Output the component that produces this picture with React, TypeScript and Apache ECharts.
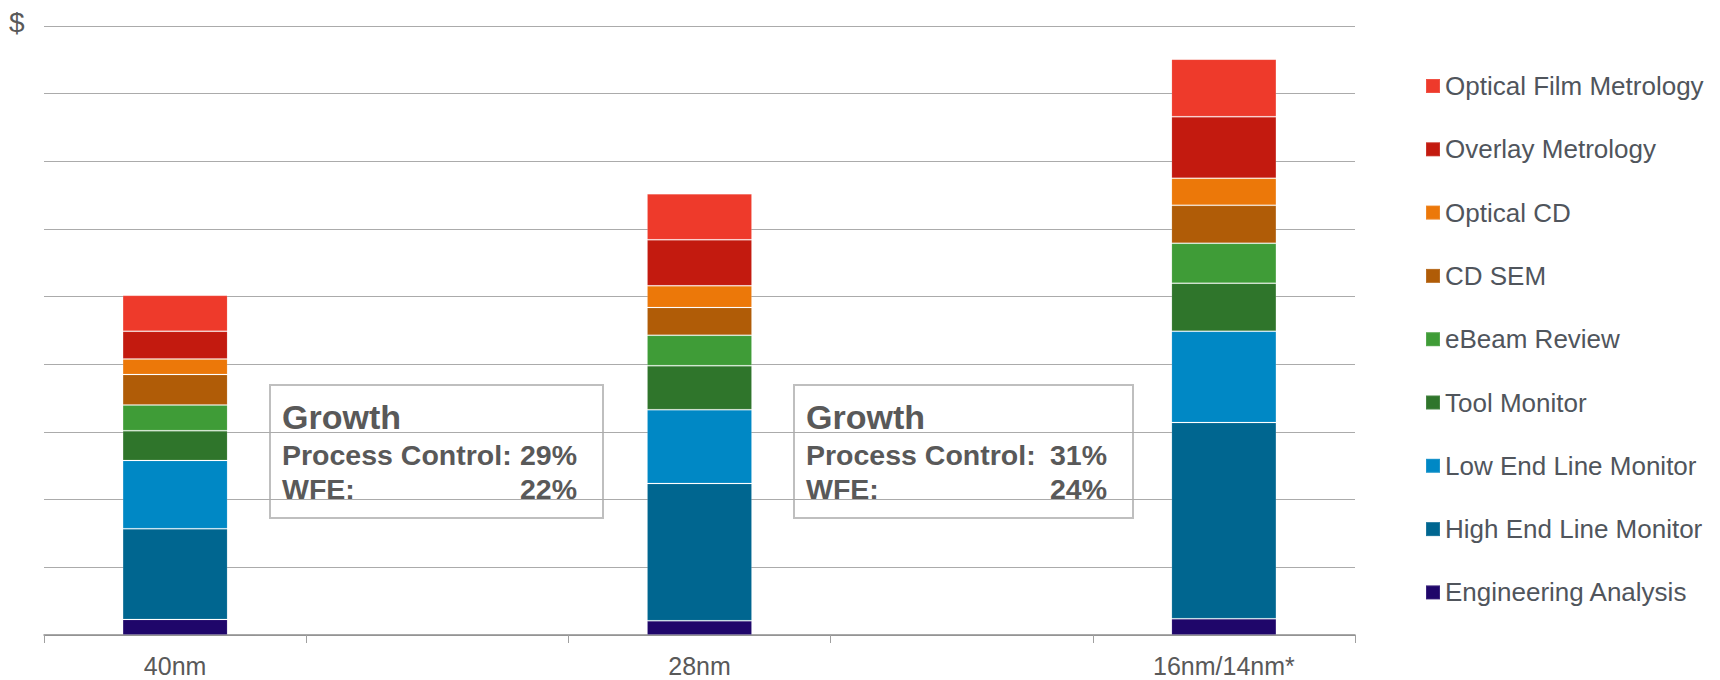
import React, { useEffect, useRef } from 'react';
import * as echarts from 'echarts';

// Node categories; the empty slots keep the wide spacing between bars
const categories = ['40nm', '', '28nm', '', '16nm/14nm*'];

// Stack order, bottom to top
const seriesNames = [
  'Engineering Analysis',
  'High End Line Monitor',
  'Low End Line Monitor',
  'Tool Monitor',
  'eBeam Review',
  'CD SEM',
  'Optical CD',
  'Overlay Metrology',
  'Optical Film Metrology',
];

const seriesColors = [
  '#1F066A',
  '#006690',
  '#0088C5',
  '#2F752B',
  '#3F9C37',
  '#B05C07',
  '#EC7809',
  '#C31A0F',
  '#EE3A2B',
];

// Process-control spend per node (relative $ units)
const engineeringAnalysis = [0.23, '-', 0.21, '-', 0.24];
const highEndLineMonitor = [1.34, '-', 2.03, '-', 2.9];
const lowEndLineMonitor = [1.01, '-', 1.09, '-', 1.35];
const toolMonitor = [0.44, '-', 0.65, '-', 0.71];
const eBeamReview = [0.38, '-', 0.45, '-', 0.59];
const cdSem = [0.45, '-', 0.41, '-', 0.56];
const opticalCd = [0.23, '-', 0.32, '-', 0.4];
const overlayMetrology = [0.41, '-', 0.68, '-', 0.91];
const opticalFilmMetrology = [0.53, '-', 0.68, '-', 0.85];

const seriesValues = [
  engineeringAnalysis,
  highEndLineMonitor,
  lowEndLineMonitor,
  toolMonitor,
  eBeamReview,
  cdSem,
  opticalCd,
  overlayMetrology,
  opticalFilmMetrology,
];

// Growth call-outs between nodes
const growthTitle = 'Growth';
const processControlLabel = 'Process Control:';
const wfeLabel = 'WFE:';
const processControlGrowth = ['29%', '31%'];
const wfeGrowth = ['22%', '24%'];

const FONT = '"Liberation Sans", Arial, Helvetica, sans-serif';
const TEXT_GRAY = '#595959';

function boxText(x: number, y: number, text: string, size: number, align: string) {
  return {
    type: 'text',
    x,
    y,
    style: {
      text,
      fill: TEXT_GRAY,
      fontFamily: FONT,
      fontWeight: 'bold',
      fontSize: size,
      align,
      verticalAlign: 'middle',
    },
  };
}

function growthBox(x: number, w: number, pcText: string, wfeText: string, valueRight: number) {
  const top = 385;
  const h = 133;
  const textLeft = x + 12;
  return {
    type: 'group',
    z: 100,
    children: [
      {
        type: 'rect',
        shape: { x, y: top, width: w, height: h },
        style: { fill: '#FFFFFF', stroke: '#BFBFBF', lineWidth: 2 },
      },
      boxText(textLeft, top + 32, growthTitle, 34, 'left'),
      boxText(textLeft, top + 70, processControlLabel, 28.5, 'left'),
      boxText(valueRight, top + 70, pcText, 28.5, 'right'),
      boxText(textLeft, top + 104, wfeLabel, 28.5, 'left'),
      boxText(valueRight, top + 104, wfeText, 28.5, 'right'),
    ],
  };
}

export default function App() {
  const ref = useRef<HTMLDivElement>(null);

  useEffect(() => {
    if (!ref.current) return;
    const chart = echarts.init(ref.current, undefined, { renderer: 'svg' });

    const series = seriesNames.map((name, i) => ({
      name,
      type: 'bar',
      stack: 'total',
      barWidth: 105,
      data: seriesValues[i],
      itemStyle: {
        color: seriesColors[i],
        borderColor: 'rgba(255,255,255,0.12)',
        borderWidth: 1,
      },
      emphasis: { disabled: true },
    }));

    chart.setOption({
      animation: false,
      backgroundColor: '#FFFFFF',
      textStyle: { fontFamily: FONT },
      grid: { left: 44, right: 365, top: 26, bottom: 45, containLabel: false },
      xAxis: {
        type: 'category',
        data: categories,
        axisLine: { lineStyle: { color: '#8C8C8C', width: 1.5 } },
        axisTick: { show: true, alignWithLabel: false, length: 8, lineStyle: { color: '#A0A0A0' } },
        axisLabel: {
          fontSize: 25,
          color: TEXT_GRAY,
          fontFamily: FONT,
          margin: 18,
          interval: 0,
        },
      },
      yAxis: {
        type: 'value',
        min: 0,
        max: 9,
        interval: 1,
        axisLine: { show: false },
        axisTick: { show: false },
        axisLabel: { show: false },
        splitLine: { lineStyle: { color: '#ABABAB', width: 1 } },
      },
      legend: {
        orient: 'vertical',
        left: 1425,
        top: 73,
        padding: 0,
        icon: 'rect',
        itemWidth: 14,
        itemHeight: 14,
        itemGap: 37.3,
        selectedMode: false,
        data: [...seriesNames].reverse(),
        textStyle: {
          fontSize: 26,
          color: '#50555C',
          fontFamily: FONT,
        },
      },
      graphic: [
        {
          type: 'text',
          x: 9,
          y: 22,
          style: {
            text: '$',
            fill: TEXT_GRAY,
            fontFamily: FONT,
            fontSize: 28,
            align: 'left',
            verticalAlign: 'middle',
          },
        },
        growthBox(270, 333, processControlGrowth[0], wfeGrowth[0], 577),
        growthBox(794, 339, processControlGrowth[1], wfeGrowth[1], 1107),
      ],
      series,
    });

    return () => chart.dispose();
  }, []);

  return (
    <div
      ref={ref}
      style={{ position: 'absolute', left: 0, top: 0, width: 1720, height: 680 }}
    />
  );
}
